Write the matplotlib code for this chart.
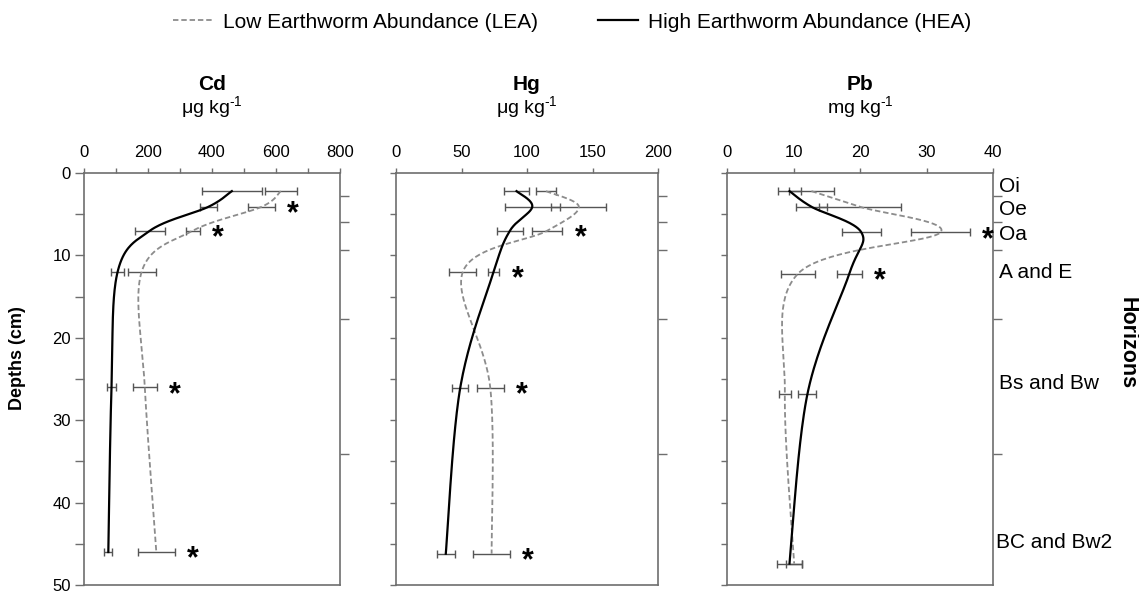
import numpy as np
import matplotlib
matplotlib.use('Agg')
import matplotlib.pyplot as plt
from matplotlib.lines import Line2D

plt.rcParams['font.family'] = ['Liberation Sans', 'DejaVu Sans']
plt.rcParams['mathtext.fontset'] = 'custom'
plt.rcParams['mathtext.rm'] = 'Liberation Sans'
plt.rcParams['mathtext.it'] = 'Liberation Sans'

# datos (profundidad en cm)
depth_cd = [2.2, 4.1, 7.0, 12.0, 26.0, 46.0]
cd_lea = [615, 555, 340, 180, 190, 226]
cd_lea_err = [50, 42, 22, 44, 38, 58]
cd_hea = [462, 389, 206, 105, 86, 76]
cd_hea_err = [93, 27, 46, 20, 14, 13]
cd_sig = [0, 1, 1, 0, 1, 1]

depth_hg = [2.2, 4.1, 7.0, 12.0, 26.1, 46.2]
hg_lea = [114.5, 139.6, 115.5, 51, 72, 73]
hg_lea_err = [7.5, 21, 11.5, 10.3, 10.2, 14]
hg_hea = [92, 104, 87, 74.5, 49, 38]
hg_hea_err = [9.3, 21, 10, 4.5, 6.3, 7]
hg_sig = [0, 0, 1, 1, 1, 1]

depth_pb = [2.2, 4.1, 7.2, 12.2, 26.8, 47.4]
pb_lea = [12.7, 20.0, 32.1, 10.7, 8.7, 10.1]
pb_lea_err = [3.4, 6.1, 4.4, 2.6, 0.9, 1.2]
pb_hea = [9.4, 12.7, 20.2, 18.4, 12.1, 9.4]
pb_hea_err = [1.8, 2.3, 2.9, 1.9, 1.35, 1.9]
pb_sig = [0, 0, 1, 1, 0, 0]

# limites de horizontes y sus nombres
horizon_bounds = [2.8, 5.9, 9.3, 17.7, 34.1]
horizon_names = ['Oi', 'Oe', 'Oa', 'A and E', 'Bs and Bw', 'BC and Bw2']
horizon_label_depth = [1.6, 4.4, 7.5, 12.1, 25.6, 44.9]

unit_ug = r'$\mathrm{\mu}$g kg$^{\text{-1}}$'
unit_mg = r'mg kg$^{\text{-1}}$'

panels = [
    ('Cd', unit_ug, 800, 200, 100, depth_cd, cd_lea, cd_lea_err, cd_hea, cd_hea_err, cd_sig),
    ('Hg', unit_ug, 200, 50, 50, depth_hg, hg_lea, hg_lea_err, hg_hea, hg_hea_err, hg_sig),
    ('Pb', unit_mg, 40, 10, 10, depth_pb, pb_lea, pb_lea_err, pb_hea, pb_hea_err, pb_sig),
]
ax_pos = [(84, 256), (396, 262), (727, 266)]

W, H = 1139, 593
top_px, bot_px = 173, 585
axcol = '#6e6e6e'
lea_col = '#8c8c8c'
lea_dash = (0, (3, 1.6))


def suavizar(x, y, sx, sy, n=40):
    # linea suavizada tipo excel (bezier entre puntos, en pixeles)
    pts = np.column_stack([np.asarray(x, float) * sx, np.asarray(y, float) * sy])
    P = np.vstack([pts[0], pts, pts[-1]])
    t = np.linspace(0, 1, n)[:, None]
    out = []
    for i in range(1, len(P) - 2):
        p0, p1, p2, p3 = P[i - 1], P[i], P[i + 1], P[i + 2]
        c1 = p1 + (p2 - p0) / 6
        c2 = p2 - (p3 - p1) / 6
        seg = (1 - t) ** 3 * p1 + 3 * (1 - t) ** 2 * t * c1 + 3 * (1 - t) * t ** 2 * c2 + t ** 3 * p2
        out.append(seg)
    out = np.vstack(out)
    return out[:, 0] / sx, out[:, 1] / sy


fig = plt.figure(figsize=(W / 100, H / 100), dpi=100)

for k, (name, unit, xmax, xmaj, xmin_step, dep, lea, lea_e, hea, hea_e, sig) in enumerate(panels):
    left, width = ax_pos[k]
    ax = fig.add_axes([left / W, 1 - bot_px / H, width / W, (bot_px - top_px) / H])
    ax.set_xlim(0, xmax)
    ax.set_ylim(50, 0)

    sx = width / xmax
    sy = (bot_px - top_px) / 50.0

    ax.errorbar(lea, dep, xerr=lea_e, fmt='none', ecolor='#555555', elinewidth=1, capsize=3, capthick=1, zorder=2)
    ax.errorbar(hea, dep, xerr=hea_e, fmt='none', ecolor='#555555', elinewidth=1, capsize=3, capthick=1, zorder=2)

    xs, ys = suavizar(lea, dep, sx, sy)
    ax.plot(xs, ys, color=lea_col, lw=1.3, linestyle=lea_dash, zorder=3)
    xs, ys = suavizar(hea, dep, sx, sy)
    ax.plot(xs, ys, color='black', lw=1.6, zorder=4)

    # asteriscos de diferencia significativa
    for d, a, ae, b, be, s in zip(dep, lea, lea_e, hea, hea_e, sig):
        if s:
            xr = max(a + ae, b + be)
            ax.annotate('*', xy=(xr, d), xytext=(13, -5.5), textcoords='offset points',
                        ha='center', va='center', fontsize=22, fontweight='bold')

    # eje x arriba
    ax.xaxis.tick_top()
    ax.set_xticks(np.arange(0, xmax + 1, xmaj))
    ax.set_xticks(np.arange(0, xmax + 1, xmin_step), minor=True)
    ax.tick_params(axis='x', which='both', direction='out', length=3.5, width=1, color=axcol,
                   labelsize=12, pad=6)

    if k == 0:
        ax.set_yticks(np.arange(0, 51, 10))
        ax.set_yticks(np.arange(5, 50, 10), minor=True)
        ax.tick_params(axis='y', which='both', direction='out', length=6.5, width=1, color=axcol,
                       labelsize=12, pad=3)
    else:
        ax.set_yticks(np.arange(0, 51, 5))
        ax.tick_params(axis='y', which='both', direction='out', length=4, width=1, color=axcol,
                       labelleft=False)

    for sp in ax.spines.values():
        sp.set_color(axcol)
        sp.set_linewidth(1.2)

    # marcas de horizontes a la derecha
    ax2 = ax.twinx()
    ax2.set_ylim(50, 0)
    ax2.set_yticks(horizon_bounds)
    ax2.tick_params(axis='y', direction='out', length=6.5, width=1, color=axcol, labelright=False)
    for sp in ax2.spines.values():
        sp.set_visible(False)

    cx = (left + width / 2) / W
    fig.text(cx, 1 - 85 / H, name, ha='center', va='center', fontsize=15, fontweight='bold')
    fig.text(cx, 1 - 107 / H, unit, ha='center', va='center', fontsize=14)

    if k == 2:
        for lab, d in zip(horizon_names, horizon_label_depth):
            xo = 1.022 if lab != 'BC and Bw2' else 1.01
            ax.text(xo, d, lab, transform=ax.get_yaxis_transform(), ha='left', va='center', fontsize=15)

fig.text(18 / W, 1 - 358 / H, 'Depths (cm)', rotation=90, ha='center', va='center',
         fontsize=13, fontweight='bold')
fig.text(1127 / W, 1 - 343 / H, 'Horizons', rotation=-90, ha='center', va='center',
         fontsize=15.5, fontweight='bold')

handles = [Line2D([], [], color=lea_col, lw=1.3, linestyle=lea_dash),
           Line2D([], [], color='black', lw=1.6)]
fig.legend(handles, ['Low Earthworm Abundance (LEA)', 'High Earthworm Abundance (HEA)'],
           loc='center', bbox_to_anchor=(572 / W, 1 - 22 / H), ncol=2, frameon=False,
           fontsize=15, handlelength=1.9, handletextpad=0.5, columnspacing=2.9)

fig.savefig('out.png', dpi=100)
